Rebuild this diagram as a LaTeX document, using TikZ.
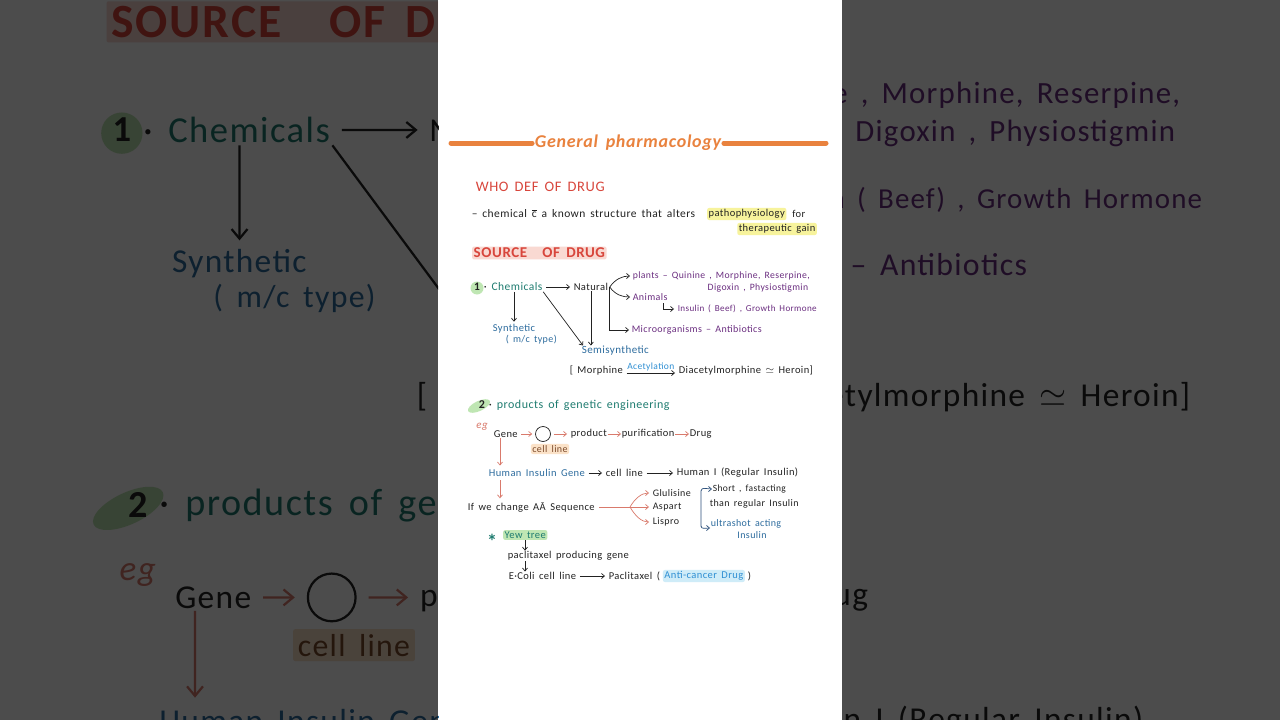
\documentclass[tikz,border=0pt]{standalone}
\usepackage{fontspec}
\setmainfont[LetterSpace=4, WordSpace=1.6]{Carlito}
\usetikzlibrary{arrows.meta,positioning}

\definecolor{ink}{HTML}{222222}
\definecolor{titleorange}{HTML}{E9823E}
\definecolor{headred}{HTML}{D8463C}
\definecolor{srcpink}{HTML}{F9D9D2}
\definecolor{tealink}{HTML}{1F7C70}
\definecolor{purpink}{HTML}{6B2E80}
\definecolor{blueink}{HTML}{2D6C9E}
\definecolor{skyink}{HTML}{2F8FD3}
\definecolor{navyink}{HTML}{2B4F7A}
\definecolor{salmon}{HTML}{D97A6C}
\definecolor{greenhl}{HTML}{BFE6B3}
\definecolor{yellowhl}{HTML}{F7F39C}
\definecolor{peachhl}{HTML}{FBE2C8}
\definecolor{brownink}{HTML}{7B4A2B}
\definecolor{skyhl}{HTML}{CFECF8}

% line width factor (changed inside the enlarged copies)
\newcommand{\lwf}{1}
% c with a bar
\newcommand{\cbar}{\ooalign{c\cr\hidewidth\rule[0.6em]{0.42em}{0.06em}\hidewidth}}

\tikzset{
  note/.style={inner sep=0.6pt, text=ink, font=\fontsize{10.5}{12}\selectfont},
  notew/.style={note, anchor=west},
  fsz/.style={font=\fontsize{#1}{#1}\selectfont},
  hl/.style={fill=#1, rounded corners=2pt, inner sep=1.5pt},
  ln/.style={draw=ink, line width=\lwf*0.7pt},
  arr/.style={ln, -{Straight Barb[length=3pt, width=5pt, scale=\lwf]}},
  gap/.style={shorten <=\lwf*3pt, shorten >=\lwf*3pt},
  tipgap/.style={shorten >=\lwf*2pt},
  redarr/.style={arr, draw=salmon},
  titleline/.style={draw=titleorange, line width=\lwf*5pt, line cap=round},
}

\newcommand{\drugnotes}{%
% titolo
\node[note, font=\fontsize{18}{20}\selectfont\bfseries\itshape, text=titleorange] (title) at (628,143) {General pharmacology};
\coordinate (tl) at (451,143);
\coordinate (tr) at (826,143);
\draw[titleline] (tl) -- ([xshift=-2pt]title.west);
\draw[titleline] ([xshift=2pt]title.east) -- (tr);

% definizione
\node[notew, fsz=14.5, text=headred] (who) at (475,187) {WHO DEF OF DRUG};
\node[notew, fsz=11.5] (defn) at (471,214) {– chemical \cbar\ a known structure that alters};
\node[notew, hl=yellowhl] (patho) at (707,214) {pathophysiology};
\node[notew, right=5pt of patho] (for) {for};
\node[note, anchor=east, hl=yellowhl] (gain) at (817,229) {therapeutic gain};

% fonti
\node[notew, font=\fontsize{15}{16}\selectfont\bfseries, text=headred, hl=srcpink] (src) at (472,253) {SOURCE\quad OF DRUG};

\fill[greenhl] (477,288) circle[radius=6.5];
\node[note, font=\fontsize{11.5}{13}\selectfont\bfseries] (one) at (477,287) {1};
\node[notew, fsz=11.5, text=tealink] (chem) at (483,287) {\textcolor{ink}{·} Chemicals};
\node[notew] (natural) at (573,287) {Natural};
\draw[arr, gap] (chem) -- (natural);

\node[notew, fsz=9.7, text=purpink] (plants) at (632,276) {plants – Quinine , Morphine, Reserpine,};
\node[note, anchor=east, fsz=9.7, text=purpink] (digox) at (809,288) {Digoxin , Physiostigmin};
\node[notew, fsz=10, text=purpink] (animals) at (632,297) {Animals};
\node[notew, fsz=9.1, text=purpink] (beef) at (677,309) {Insulin ( Beef) , Growth Hormone};
\node[notew, fsz=10, text=purpink] (micro) at (631,330) {Microorganisms – Antibiotics};
\coordinate (fork) at ([xshift=1pt]natural.east);
\draw[arr, tipgap] (fork) to[out=55,in=180] (plants.west);
\draw[arr, tipgap] (fork) to[out=-55,in=180] (animals.west);
\draw[arr, tipgap] (fork) |- (micro.west);
\draw[arr] ([xshift=-14pt, yshift=6pt]beef.west) |- ([xshift=-3pt]beef.west);

\node[notew, text=blueink] (synth) at (492,329) {Synthetic};
\node[notew, fsz=10, text=blueink] (mctype) at (505,340) {( m/c type)};
\draw[arr] ([xshift=31pt]chem.south west) -- ([xshift=22pt, yshift=2pt]synth.north west);
\node[notew, fsz=11, text=blueink] (semi) at (581,351) {Semisynthetic};
\draw[arr] (chem.south east) -- ([xshift=2pt]semi.north west);
\draw[arr] (natural.south) -- (natural.south |- semi.north);

\node[notew] (morph) at (569,371) {[ Morphine};
\node[notew] (diac) at (678,371) {Diacetylmorphine $\simeq$ Heroin]};
\draw[arr, gap] ([yshift=-2pt]morph.east) -- node[above=1pt, note, fsz=9.5, text=skyink] (acet) {Acetylation} ([yshift=-2pt]diac.west);

% ingegneria genetica
\fill[greenhl, rotate around={25:(479,406)}] (479,406) ellipse[x radius=12, y radius=5];
\node[note, font=\fontsize{12}{13}\selectfont\bfseries] (two) at (482,405) {2};
\node[notew, fsz=12, text=tealink] (prod) at (488,405) {\textcolor{ink}{·} products of genetic engineering};
\node[note, font=\fontsize{11}{12}\selectfont\itshape, text=salmon] (eg) at (482,427) {eg};
\node[notew] (gene) at (493,434) {Gene};
\node[ln, circle, minimum size=15pt, inner sep=0pt] (cell) at (543,434) {};
\node[notew] (product) at (570,434) {product};
\node[notew] (purif) at (621,434) {purification};
\node[notew] (drug) at (689,434) {Drug};
\draw[redarr, gap] (gene) -- (cell);
\draw[redarr, gap] (cell) -- (product);
\draw[redarr] (product) -- (purif);
\draw[redarr] (purif) -- (drug);
\node[note, fsz=10, text=brownink, hl=peachhl] (cellline) at (550,449) {cell line};

\node[notew, text=blueink] (hig) at (488,473) {Human Insulin Gene};
\draw[redarr] ([xshift=7pt]gene.south west) -- ([xshift=12pt, yshift=3pt]hig.north west);
\node[notew] (cellline2) at (605,473) {cell line};
\node[notew] (humanins) at (676,473) {Human I (Regular Insulin)};
\draw[arr, gap] (hig) -- (cellline2);
\draw[arr, gap] (cellline2) -- (humanins);

\node[notew] (ifwe) at (467,507) {If we change A\={A} Sequence};
\draw[redarr] ([xshift=12pt, yshift=-3pt]hig.south west) -- ([xshift=33pt, yshift=3pt]ifwe.north west);
\node[notew, fsz=10] (glu) at (652,493) {Glulisine};
\node[notew, fsz=10] (asp) at (652,507) {Aspart};
\node[notew, fsz=10] (lis) at (652,522) {Lispro};
\coordinate (split) at (630,507);
\draw[ln, draw=salmon] ([xshift=4pt]ifwe.east) -- (split);
\draw[redarr, shorten >=\lwf*3pt] (split) to[out=60,in=180] (glu.west);
\draw[redarr, shorten >=\lwf*3pt] (split) -- (asp.west);
\draw[redarr, shorten >=\lwf*3pt] (split) to[out=-60,in=180] (lis.west);

\node[notew, fsz=9.5] (short) at (712,489) {Short , fastacting};
\node[notew, fsz=10] (than) at (709,504) {than regular Insulin};
\node[notew, fsz=10, text=blueink] (ultra) at (710,524) {ultrashot acting};
\node[note, fsz=10, text=blueink] (insu) at (752,535) {Insulin};
\coordinate (brtop) at (701,491);
\coordinate (brbot) at (701,526);
\draw[arr, draw=navyink] (brbot) -- (brtop) to[out=90,in=180] (short.west);
\draw[arr, draw=navyink] (brbot) to[out=-90,in=180] ([yshift=-4pt]ultra.west);

% tasso
\node[note, font=\fontsize{20}{20}\selectfont\bfseries, text=tealink] (star) at (492,541) {*};
\node[notew, text=tealink, hl=greenhl] (yew) at (503,535) {Yew tree};
\node[notew] (pacl) at (507,556) {paclitaxel producing gene};
\node[notew] (ecoli) at (508,576) {E·Coli cell line};
\draw[arr] ([xshift=22pt]yew.south west) -- ([xshift=18pt]pacl.north west);
\draw[arr] ([xshift=18pt]pacl.south west) -- ([xshift=17pt]ecoli.north west);
\node[notew] (paclit) at (608,576) {Paclitaxel (};
\node[notew, text=skyink, hl=skyhl] (anti) at ([xshift=2pt]paclit.east) {Anti-cancer Drug};
\node[notew] (close) at ([xshift=2pt]anti.east) {)};
\draw[arr, gap] (ecoli) -- (paclit);
}

\begin{document}
\begin{tikzpicture}[x=1pt, y=-1pt]
\useasboundingbox (0,0) rectangle (1280,720);
\fill[white] (0,0) rectangle (1280,720);

% copie ingrandite ai lati
\begin{scope}
  \clip (0,0) rectangle (438,720);
  \begin{scope}[shift={(-1395,-782.7)}, scale=3.18, transform shape]
    \renewcommand{\lwf}{3.18}
    \drugnotes
  \end{scope}
\end{scope}
\begin{scope}
  \clip (842,0) rectangle (1280,720);
  \begin{scope}[shift={(-1395,-782.7)}, scale=3.18, transform shape]
    \renewcommand{\lwf}{3.18}
    \drugnotes
  \end{scope}
\end{scope}
\fill[black, opacity=0.7] (0,0) rectangle (438,720);
\fill[black, opacity=0.7] (842,0) rectangle (1280,720);

% pagina centrale
\drugnotes
\end{tikzpicture}
\end{document}
